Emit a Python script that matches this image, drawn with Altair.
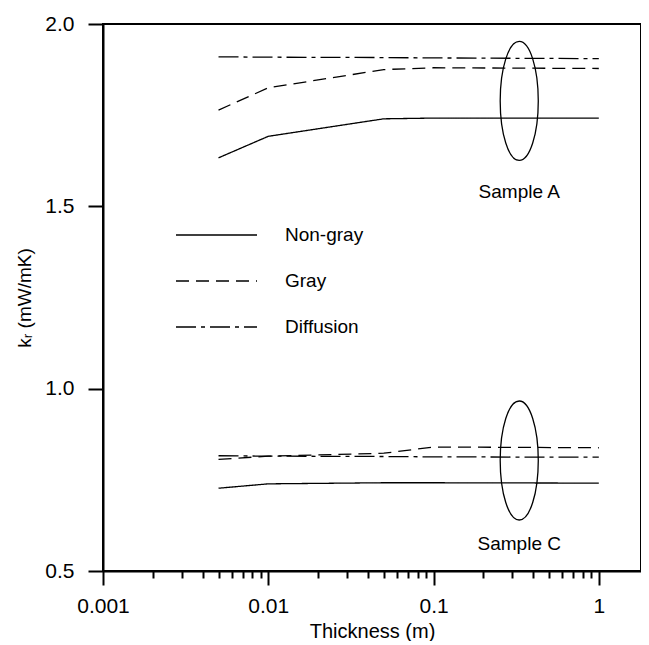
import altair as alt
import pandas as pd

# ---- data ----
thickness = [0.005, 0.01, 0.05, 0.1, 1.0]

a_nongray = [1.633, 1.692, 1.740, 1.742, 1.742]
a_gray = [1.764, 1.825, 1.875, 1.880, 1.878]
a_diffusion = [1.910, 1.909, 1.908, 1.907, 1.905]

c_nongray = [0.727, 0.739, 0.742, 0.742, 0.741]
c_gray = [0.806, 0.815, 0.823, 0.840, 0.838]
c_diffusion = [0.816, 0.815, 0.814, 0.813, 0.812]

series_names = ["Non-gray", "Gray", "Diffusion"]
sample_names = ["Sample A", "Sample C"]
group_x = [0.33, 0.33]          # ellipse / annotation centre (thickness)
group_y = [1.789, 0.803]        # ellipse centre (k_r)
label_y = [1.539, 0.575]        # annotation text position (k_r)

x_major = [0.001, 0.01, 0.1, 1]
x_minor = [0.002, 0.003, 0.004, 0.005, 0.006, 0.007, 0.008, 0.009,
           0.02, 0.03, 0.04, 0.05, 0.06, 0.07, 0.08, 0.09,
           0.2, 0.3, 0.4, 0.5, 0.6, 0.7, 0.8, 0.9]
y_ticks = [0.5, 1.0, 1.5, 2.0]

# ---- tables ----
rows = []
for sample, vals in (("Sample A", (a_nongray, a_gray, a_diffusion)),
                     ("Sample C", (c_nongray, c_gray, c_diffusion))):
    for name, ys in zip(series_names, vals):
        for xv, yv in zip(thickness, ys):
            rows.append({"sample": sample, "series": name, "x": xv, "y": yv})
lines_df = pd.DataFrame(rows)
groups_df = pd.DataFrame({"sample": sample_names, "x": group_x,
                          "y": group_y, "ly": label_y})

FONT = "Liberation Sans"
major_test = "indexof([0.001,0.01,0.1,1], datum.value) >= 0"

xscale = alt.Scale(type="log", domain=[0.001, 1.8], nice=False)
yscale = alt.Scale(domain=[0.5, 2.0], nice=False, zero=False)

xaxis = alt.Axis(
    values=sorted(x_major + x_minor), format="~g",
    labelExpr=f"{major_test} ? datum.label : ''",
    tickSize={"condition": {"test": major_test, "value": 14}, "value": 7},
    tickWidth=2, tickColor="black", domainColor="black", domainWidth=2,
    labelFont=FONT, labelFontSize=21, labelColor="black", labelPadding=10,
    labelOverlap=False, labelFlush=False, labelBound=False,
    titleFont=FONT, titleFontSize=20, titleFontWeight="normal",
    titleColor="black", titlePadding=5, grid=False,
)
yaxis = alt.Axis(
    values=y_ticks, format=".1f", tickSize=15, tickWidth=2,
    tickColor="black", domainColor="black", domainWidth=2,
    labelFont=FONT, labelFontSize=21, labelColor="black", labelPadding=14,
    labelFlush=False, labelOverlap=False,
    titleFont=FONT, titleFontSize=19, titleFontWeight="normal",
    titleColor="black", titlePadding=10, grid=False,
)

lines = alt.Chart(lines_df).mark_line(color="black", strokeWidth=1.3).encode(
    x=alt.X("x:Q", scale=xscale, axis=xaxis, title="Thickness (m)"),
    y=alt.Y("y:Q", scale=yscale, axis=yaxis, title="kᵣ (mW/mK)"),
    strokeDash=alt.StrokeDash(
        "series:N",
        scale=alt.Scale(domain=series_names,
                        range=[[1, 0], [13, 7], [20, 5, 4, 5]]),
        legend=alt.Legend(
            title=None, orient="none", legendX=72, legendY=201,
            symbolType="stroke", symbolSize=6561, symbolStrokeWidth=1.3,
            symbolStrokeColor="black", clipHeight=20, rowPadding=26,
            labelOffset=27, labelFont=FONT, labelFontSize=19,
            labelColor="black", padding=0, direction="vertical",
        ),
    ),
    detail="sample:N",
)

ellipse_path = ("M0,-1 C0.177,-1 0.32,-0.552 0.32,0 C0.32,0.552 0.177,1 0,1 "
                "C-0.177,1 -0.32,0.552 -0.32,0 C-0.32,-0.552 -0.177,-1 0,-1 Z")
ellipses = alt.Chart(groups_df).mark_point(
    shape=ellipse_path, filled=False, size=14161, color="black",
    strokeWidth=1.3, opacity=1,
).encode(x=alt.X("x:Q", scale=xscale), y=alt.Y("y:Q", scale=yscale))

labels = alt.Chart(groups_df).mark_text(
    font=FONT, fontSize=19, color="black",
).encode(x=alt.X("x:Q", scale=xscale), y=alt.Y("ly:Q", scale=yscale),
         text="sample:N")

chart = alt.layer(lines, ellipses, labels).properties(
    width=538, height=547,
    autosize=alt.AutoSizeParams(type="none"),
    padding={"left": 95, "top": 16, "right": 0, "bottom": 70},
).configure_view(stroke="black", strokeWidth=2)

chart.save("out.html", embed_options={"renderer": "svg", "actions": False})
